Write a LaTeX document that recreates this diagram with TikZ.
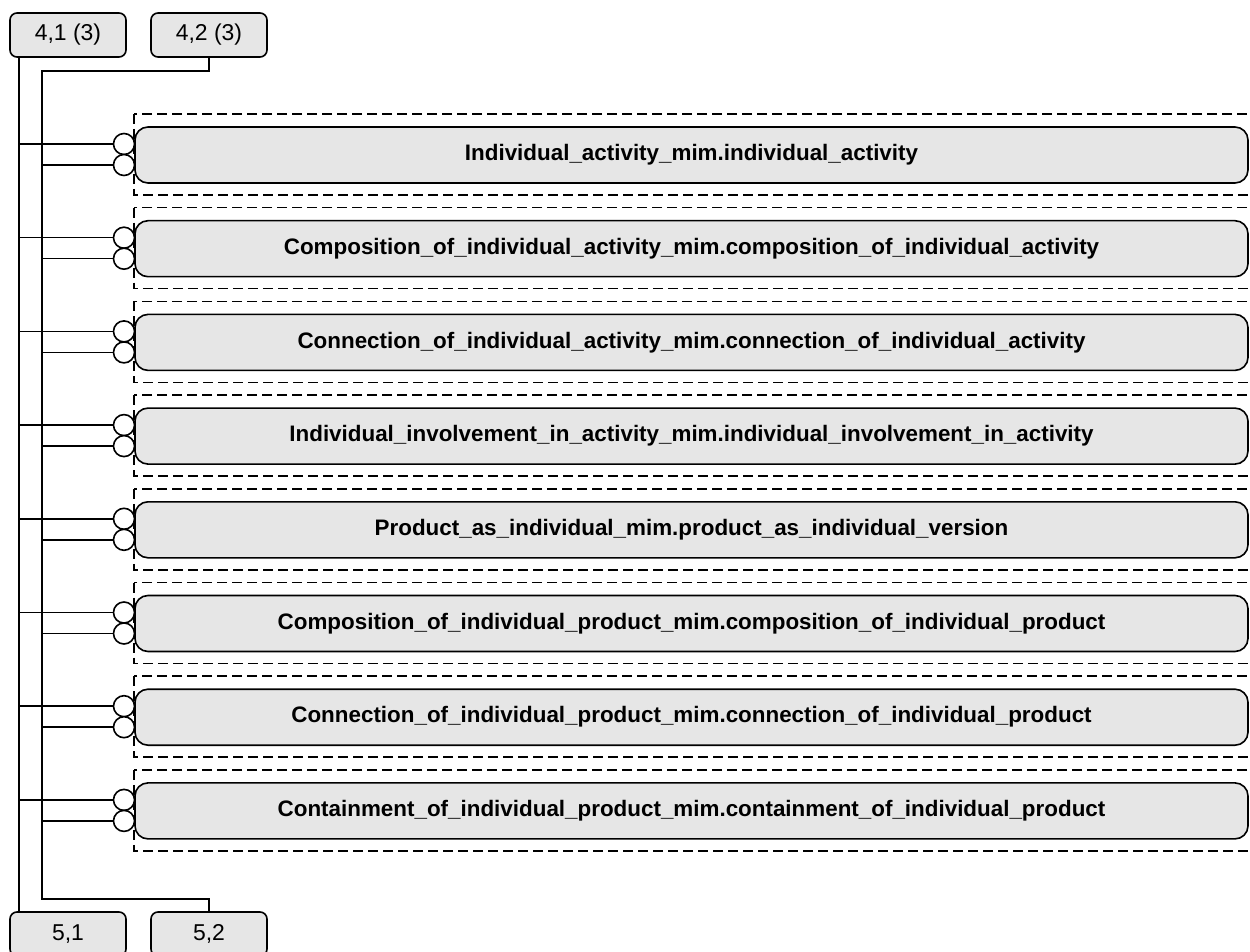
\documentclass[tikz,border=0pt]{standalone}
\usepackage{fontspec}
\setmainfont{Liberation Sans}
\usetikzlibrary{positioning}
\definecolor{boxgrey}{RGB}{230,230,230}

\tikzset{
  refbox/.style={draw, rounded corners=5.25pt, fill=boxgrey, line width=1.2pt, minimum width=87pt, minimum height=33pt, inner sep=0pt, font=\fontsize{17.2}{20}\selectfont},
  entitybox/.style={draw, rounded corners=9.75pt, fill=boxgrey, line width=1.2pt, minimum width=834.75pt, minimum height=42pt, inner sep=0pt, font=\bfseries\fontsize{16.8}{19}\selectfont},
  ring/.style={draw, circle, fill=white, line width=1.2pt, minimum size=15.75pt, inner sep=0pt},
  dashbox/.style={line width=1.2pt, dash pattern=on 7.5pt off 3.75pt},
  link/.style={line width=1.2pt}
}

\begin{document}
\begin{tikzpicture}[x=0.75pt,y=0.75pt,yscale=-1,xscale=1]
\useasboundingbox (0,0) rectangle (1250,952);

% Reference boxes
\node [refbox] (b41) at (68,35) {4,1 (3)};
\node [refbox] (b42) at (209,35) {4,2 (3)};
\node [refbox] (b51) at (68,934) {5,1};
\node [refbox] (b52) at (209,934) {5,2};
\coordinate (t1) at (19,57);
\coordinate (t2top) at (42,71);
\coordinate (t2bot) at (42,899);

% Row 1
\draw [dashbox] (134,114) rectangle (1262,195);
\node [entitybox] (ia) at (691.5,155) {Individual\_activity\_mim.individual\_activity};
\node [ring] (ia1) at (124,144) {};
\node [ring] (ia2) at (124,165) {};
% Row 2
\draw [dashbox] (134,207.7) rectangle (1262,288.7);
\node [entitybox] (coia) at (691.5,248.7) {Composition\_of\_individual\_activity\_mim.composition\_of\_individual\_activity};
\node [ring] (coia1) at (124,237.7) {};
\node [ring] (coia2) at (124,258.7) {};
% Row 3
\draw [dashbox] (134,301.4) rectangle (1262,382.4);
\node [entitybox] (cnia) at (691.5,342.4) {Connection\_of\_individual\_activity\_mim.connection\_of\_individual\_activity};
\node [ring] (cnia1) at (124,331.4) {};
\node [ring] (cnia2) at (124,352.4) {};
% Row 4
\draw [dashbox] (134,395.1) rectangle (1262,476.1);
\node [entitybox] (iia) at (691.5,436.1) {Individual\_involvement\_in\_activity\_mim.individual\_involvement\_in\_activity};
\node [ring] (iia1) at (124,425.1) {};
\node [ring] (iia2) at (124,446.1) {};
% Row 5
\draw [dashbox] (134,488.8) rectangle (1262,569.8);
\node [entitybox] (pai) at (691.5,529.8) {Product\_as\_individual\_mim.product\_as\_individual\_version};
\node [ring] (pai1) at (124,518.8) {};
\node [ring] (pai2) at (124,539.8) {};
% Row 6
\draw [dashbox] (134,582.5) rectangle (1262,663.5);
\node [entitybox] (coip) at (691.5,623.5) {Composition\_of\_individual\_product\_mim.composition\_of\_individual\_product};
\node [ring] (coip1) at (124,612.5) {};
\node [ring] (coip2) at (124,633.5) {};
% Row 7
\draw [dashbox] (134,676.2) rectangle (1262,757.2);
\node [entitybox] (cnip) at (691.5,717.2) {Connection\_of\_individual\_product\_mim.connection\_of\_individual\_product};
\node [ring] (cnip1) at (124,706.2) {};
\node [ring] (cnip2) at (124,727.2) {};
% Row 8
\draw [dashbox] (134,769.9) rectangle (1262,850.9);
\node [entitybox] (ctip) at (691.5,810.9) {Containment\_of\_individual\_product\_mim.containment\_of\_individual\_product};
\node [ring] (ctip1) at (124,799.9) {};
\node [ring] (ctip2) at (124,820.9) {};

% Trunks
\draw [link] (t1) -- (t1 |- b51.north);
\draw [link] (b42.south) |- (t2top) -- (t2bot) -| (b52.north);

% Branches
\draw [link] (ia1.west) -- (ia1.west -| t1);
\draw [link] (ia2.west) -- (ia2.west -| t2top);
\draw [link] (coia1.west) -- (coia1.west -| t1);
\draw [link] (coia2.west) -- (coia2.west -| t2top);
\draw [link] (cnia1.west) -- (cnia1.west -| t1);
\draw [link] (cnia2.west) -- (cnia2.west -| t2top);
\draw [link] (iia1.west) -- (iia1.west -| t1);
\draw [link] (iia2.west) -- (iia2.west -| t2top);
\draw [link] (pai1.west) -- (pai1.west -| t1);
\draw [link] (pai2.west) -- (pai2.west -| t2top);
\draw [link] (coip1.west) -- (coip1.west -| t1);
\draw [link] (coip2.west) -- (coip2.west -| t2top);
\draw [link] (cnip1.west) -- (cnip1.west -| t1);
\draw [link] (cnip2.west) -- (cnip2.west -| t2top);
\draw [link] (ctip1.west) -- (ctip1.west -| t1);
\draw [link] (ctip2.west) -- (ctip2.west -| t2top);

\end{tikzpicture}
\end{document}
